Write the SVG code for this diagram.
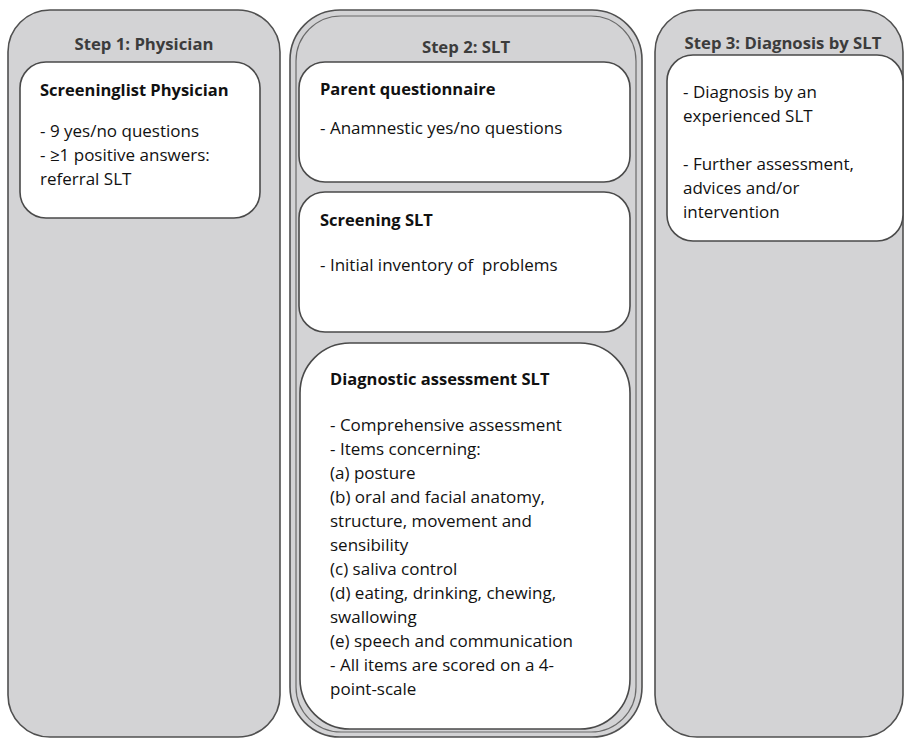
<svg xmlns="http://www.w3.org/2000/svg" width="904" height="739" viewBox="0 0 904 739">
<style>
.panel{fill:#d3d3d5;stroke:#505050;stroke-width:1.6}
.inner{fill:none;stroke:#6a6a6a;stroke-width:1.2}
.box{fill:#ffffff;stroke:#4a4a4a;stroke-width:1.6}
.step{font-family:"Open Sans","Liberation Sans",sans-serif;font-weight:bold;font-size:16.7px;fill:#3c3c3c}
.ttl{font-family:"Open Sans","Liberation Sans",sans-serif;font-weight:bold;font-size:16.5px;fill:#111}
.txt{font-family:"Open Sans","Liberation Sans",sans-serif;font-size:17px;fill:#111;white-space:pre}
</style>
<rect width="904" height="739" fill="#ffffff"/>
<g id="step1">
<rect class="panel" x="8" y="10" width="272" height="727" rx="42"/>
<text class="step" x="144" y="50" text-anchor="middle">Step 1: Physician</text>
</g>
<g id="step2">
<rect class="panel" x="290" y="10" width="352" height="727" rx="50"/>
<rect class="inner" x="296" y="16" width="340" height="716" rx="45"/>
<text class="step" x="466" y="53" text-anchor="middle">Step 2: SLT</text>
</g>
<g id="step3">
<rect class="panel" x="655" y="10" width="248" height="727" rx="42"/>
<text class="step" x="783" y="49" text-anchor="middle">Step 3: Diagnosis by SLT</text>
</g>
<g id="screeninglist">
<rect class="box" x="20" y="62" width="240" height="156" rx="26"/>
<text class="ttl" x="40" y="96">Screeninglist Physician</text>
<text class="txt" x="40" y="137">- 9 yes/no questions</text>
<text class="txt" x="40" y="161">- ≥1 positive answers:</text>
<text class="txt" x="40" y="185">referral SLT</text>
</g>
<g id="parent">
<rect class="box" x="299" y="62" width="331" height="120" rx="26"/>
<text class="ttl" x="320" y="95">Parent questionnaire</text>
<text class="txt" x="320" y="134">- Anamnestic yes/no questions</text>
</g>
<g id="screening">
<rect class="box" x="299" y="192" width="331" height="140" rx="26"/>
<text class="ttl" x="320" y="226">Screening SLT</text>
<text class="txt" x="320" y="271" xml:space="preserve">- Initial inventory of  problems</text>
</g>
<g id="diagnostic">
<rect class="box" x="300" y="343" width="330" height="386" rx="50"/>
<text class="ttl" x="330" y="385">Diagnostic assessment SLT</text>
<text class="txt" x="330" y="431">- Comprehensive assessment</text>
<text class="txt" x="330" y="455">- Items concerning:</text>
<text class="txt" x="330" y="479">(a) posture</text>
<text class="txt" x="330" y="503">(b) oral and facial anatomy,</text>
<text class="txt" x="330" y="527">structure, movement and</text>
<text class="txt" x="330" y="551">sensibility</text>
<text class="txt" x="330" y="575">(c) saliva control</text>
<text class="txt" x="330" y="599">(d) eating, drinking, chewing,</text>
<text class="txt" x="330" y="623">swallowing</text>
<text class="txt" x="330" y="647">(e) speech and communication</text>
<text class="txt" x="330" y="671">- All items are scored on a 4-</text>
<text class="txt" x="330" y="695">point-scale</text>
</g>
<g id="diagnosis">
<rect class="box" x="667" y="55" width="236" height="186" rx="26"/>
<text class="txt" x="683" y="98">- Diagnosis by an</text>
<text class="txt" x="683" y="122">experienced SLT</text>
<text class="txt" x="683" y="170">- Further assessment,</text>
<text class="txt" x="683" y="194">advices and/or</text>
<text class="txt" x="683" y="218">intervention</text>
</g>
<g id="connectors"></g>
</svg>
